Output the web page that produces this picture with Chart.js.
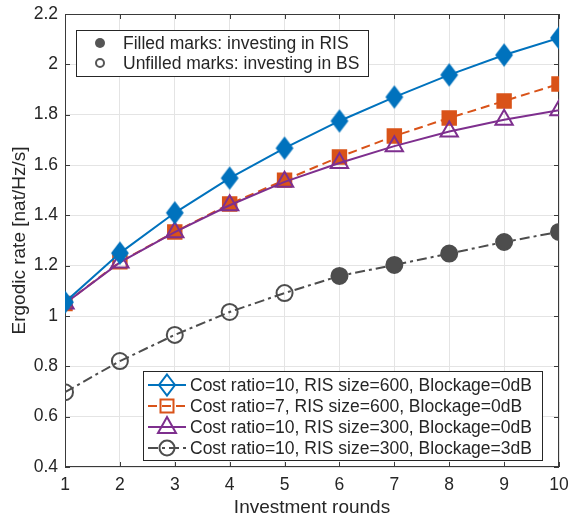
<!DOCTYPE html>
<html>
<head>
<meta charset="UTF-8">
<title>Ergodic rate vs investment rounds</title>
<script src="https://cdn.jsdelivr.net/npm/chart.js@4.4.1/dist/chart.umd.min.js"></script>
<style>
  html, body { margin: 0; padding: 0; background: #fff; }
</style>
</head>
<body>
<canvas id="myChart" width="571" height="520"></canvas>
<script>
// values
var rounds = [1, 2, 3, 4, 5, 6, 7, 8, 9, 10];
var rate600c10 = [1.055, 1.250, 1.410, 1.548, 1.667, 1.775, 1.870, 1.958, 2.037, 2.105];
var rate600c7  = [1.050, 1.215, 1.334, 1.445, 1.540, 1.632, 1.715, 1.787, 1.854, 1.922];
var rate300c10 = [1.050, 1.213, 1.333, 1.440, 1.533, 1.608, 1.675, 1.733, 1.780, 1.818];
var rate300blk = [0.697, 0.821, 0.925, 1.016, 1.091, 1.159, 1.203, 1.248, 1.294, 1.334];
// 1 = filled marker (investing in RIS), 0 = unfilled (investing in BS)
var fill600c10 = [1, 1, 1, 1, 1, 1, 1, 1, 1, 1];
var fill600c7  = [1, 0, 1, 1, 1, 1, 1, 1, 1, 1];
var fill300c10 = [0, 0, 0, 0, 0, 0, 0, 0, 0, 0];
var fill300blk = [0, 0, 0, 0, 0, 1, 1, 1, 1, 1];

var seriesLabels = [
  'Cost ratio=10, RIS size=600, Blockage=0dB',
  'Cost ratio=7, RIS size=600, Blockage=0dB',
  'Cost ratio=10, RIS size=300, Blockage=0dB',
  'Cost ratio=10, RIS size=300, Blockage=3dB'
];
var noteLabels = ['Filled marks: investing in RIS', 'Unfilled marks: investing in BS'];
var yTickLabels = ['0.4', '0.6', '0.8', '1', '1.2', '1.4', '1.6', '1.8', '2', '2.2'];

var colors = ['#0072BD', '#D95319', '#7E2F8E', '#4D4D4D'];
var dashes = [[], [9, 5], [], [10, 4, 3, 4]];
var FONT = '"Liberation Sans", Arial, Helvetica, sans-serif';

function pts(ys) {
  return rounds.map(function(x, i) { return { x: x, y: ys[i] }; });
}
function fills(flags, c) {
  return flags.map(function(f) { return f ? c : 'rgba(0,0,0,0)'; });
}

// MATLAB-like diamond (taller than wide)
function diamondPath(ctx, x, y) {
  ctx.beginPath();
  ctx.moveTo(x, y - 10.5);
  ctx.lineTo(x + 8, y);
  ctx.lineTo(x, y + 10.5);
  ctx.lineTo(x - 8, y);
  ctx.closePath();
}
var diamondImg = document.createElement('canvas');
diamondImg.width = 20; diamondImg.height = 25;
(function() {
  var c = diamondImg.getContext('2d');
  diamondPath(c, 10, 12.5);
  c.fillStyle = colors[0];
  c.fill();
  c.lineWidth = 1.5;
  c.strokeStyle = colors[0];
  c.stroke();
})();

function drawMarker(ctx, kind, x, y, color, filled) {
  ctx.save();
  ctx.strokeStyle = color;
  ctx.fillStyle = color;
  ctx.lineWidth = 2;
  if (kind === 'diamond') {
    diamondPath(ctx, x, y);
  } else if (kind === 'square') {
    ctx.beginPath();
    ctx.rect(x - 6.5, y - 6.5, 13, 13);
  } else if (kind === 'triangle') {
    ctx.beginPath();
    ctx.moveTo(x, y - 10);
    ctx.lineTo(x + 9, y + 6);
    ctx.lineTo(x - 9, y + 6);
    ctx.closePath();
  } else {
    ctx.beginPath();
    ctx.arc(x, y, 7.5, 0, Math.PI * 2);
  }
  if (filled) ctx.fill();
  ctx.stroke();
  ctx.restore();
}

var framePlugin = {
  id: 'frame',
  beforeDatasetsDraw: function(chart) {
    var ctx = chart.ctx, a = chart.chartArea;
    var xs = chart.scales.x, ys = chart.scales.y;
    ctx.save();
    ctx.strokeStyle = '#3a3a3a';
    ctx.lineWidth = 1;
    ctx.beginPath();
    xs.ticks.forEach(function(t) {
      var p = Math.round(xs.getPixelForValue(t.value)) + 0.5;
      ctx.moveTo(p, a.bottom); ctx.lineTo(p, a.bottom - 5);
      ctx.moveTo(p, a.top); ctx.lineTo(p, a.top + 5);
    });
    ys.ticks.forEach(function(t) {
      var p = Math.round(ys.getPixelForValue(t.value)) + 0.5;
      ctx.moveTo(a.left, p); ctx.lineTo(a.left + 5, p);
      ctx.moveTo(a.right, p); ctx.lineTo(a.right - 5, p);
    });
    ctx.stroke();
    ctx.strokeRect(a.left + 0.5, a.top + 0.5, a.right - a.left - 1, a.bottom - a.top - 1);
    ctx.restore();
  },
  afterDatasetsDraw: function(chart) {
    var ctx = chart.ctx;
    ctx.save();
    ctx.font = '17.5px ' + FONT;
    ctx.textBaseline = 'middle';
    ctx.textAlign = 'left';

    // note box (top left)
    ctx.fillStyle = '#fff';
    ctx.fillRect(76, 30, 292, 46);
    ctx.strokeStyle = '#262626';
    ctx.lineWidth = 1;
    ctx.strokeRect(76.5, 30.5, 292, 46);
    ctx.fillStyle = '#555';
    ctx.beginPath(); ctx.arc(100, 43, 5, 0, Math.PI * 2); ctx.fill();
    ctx.strokeStyle = '#555'; ctx.lineWidth = 2;
    ctx.beginPath(); ctx.arc(100, 63, 4, 0, Math.PI * 2); ctx.stroke();
    ctx.fillStyle = '#262626';
    ctx.fillText(noteLabels[0], 123, 44);
    ctx.fillText(noteLabels[1], 123, 64);

    // series legend (bottom right)
    ctx.fillStyle = '#fff';
    ctx.fillRect(143, 371, 399, 89);
    ctx.strokeStyle = '#262626';
    ctx.lineWidth = 1;
    ctx.strokeRect(143.5, 371.5, 399, 89);
    var kinds = ['diamond', 'square', 'triangle', 'circle'];
    for (var i = 0; i < 4; i++) {
      var y = 385 + i * 21;
      ctx.save();
      ctx.strokeStyle = colors[i];
      ctx.lineWidth = 2;
      ctx.setLineDash(dashes[i]);
      ctx.beginPath(); ctx.moveTo(148, y); ctx.lineTo(186, y); ctx.stroke();
      ctx.restore();
      drawMarker(ctx, kinds[i], 167, y, colors[i], false);
      ctx.fillStyle = '#262626';
      ctx.fillText(seriesLabels[i], 190, y + 1);
    }
    ctx.restore();
  }
};

var ctx = document.getElementById('myChart').getContext('2d');
var myChart = new Chart(ctx, {
  type: 'line',
  data: {
    datasets: [{
      label: seriesLabels[0],
      data: pts(rate600c10),
      borderColor: colors[0],
      borderWidth: 2,
      pointStyle: diamondImg,
      pointRadius: 10,
      order: 0
    }, {
      label: seriesLabels[1],
      data: pts(rate600c7),
      borderColor: colors[1],
      borderWidth: 2,
      borderDash: dashes[1],
      pointStyle: 'rect',
      pointRadius: 9.5,
      pointBorderWidth: 2,
      pointBorderColor: colors[1],
      pointBackgroundColor: fills(fill600c7, colors[1]),
      order: 2
    }, {
      label: seriesLabels[2],
      data: pts(rate300c10),
      borderColor: colors[2],
      borderWidth: 2,
      pointStyle: 'triangle',
      pointRadius: 10,
      pointBorderWidth: 2,
      pointBorderColor: colors[2],
      pointBackgroundColor: fills(fill300c10, colors[2]),
      order: 1
    }, {
      label: seriesLabels[3],
      data: pts(rate300blk),
      borderColor: colors[3],
      borderWidth: 2,
      borderDash: dashes[3],
      pointStyle: 'circle',
      pointRadius: 8,
      pointBorderWidth: 2,
      pointBorderColor: colors[3],
      pointBackgroundColor: fills(fill300blk, colors[3]),
      order: 3
    }]
  },
  options: {
    responsive: false,
    animation: false,
    devicePixelRatio: 1,
    events: [],
    layout: { padding: { left: 0, right: 11, top: 14, bottom: 0 } },
    plugins: {
      legend: { display: false },
      tooltip: { enabled: false }
    },
    elements: { line: { tension: 0, fill: false } },
    scales: {
      x: {
        type: 'linear',
        min: 1, max: 10,
        afterFit: function(s) { s.height = 53; s.paddingLeft = 0; s.paddingRight = 0; },
        ticks: {
          stepSize: 1,
          padding: 8,
          color: '#262626',
          font: { family: FONT, size: 17.5 },
          maxRotation: 0
        },
        grid: { color: '#e4e4e4', drawTicks: false },
        border: { display: false },
        title: {
          display: true,
          text: 'Investment rounds',
          color: '#262626',
          font: { family: FONT, size: 19 },
          padding: { top: 0, bottom: 1 }
        }
      },
      y: {
        type: 'linear',
        min: 0.4, max: 2.2,
        afterFit: function(s) { s.width = 65; s.paddingTop = 0; s.paddingBottom = 0; },
        ticks: {
          stepSize: 0.2,
          padding: 7,
          color: '#262626',
          font: { family: FONT, size: 17.5 },
          callback: function(v, i) { return yTickLabels[i]; }
        },
        grid: { color: '#e4e4e4', drawTicks: false },
        border: { display: false },
        title: {
          display: true,
          text: 'Ergodic rate [nat/Hz/s]',
          color: '#262626',
          font: { family: FONT, size: 19 },
          padding: { top: 8, bottom: 0 }
        }
      }
    }
  },
  plugins: [framePlugin]
});
</script>
</body>
</html>
